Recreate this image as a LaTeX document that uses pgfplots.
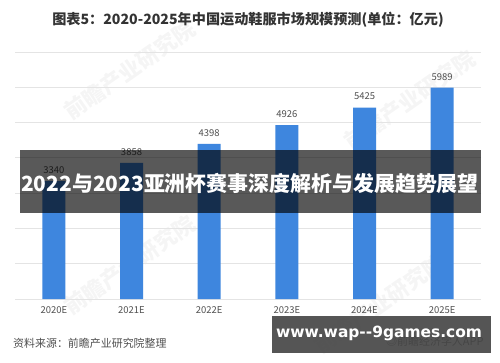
\documentclass[border=0pt]{standalone}
\usepackage{pgfplots}
\pgfplotsset{compat=1.18}
\usepackage{fontspec}
\setmainfont{Noto Sans CJK SC}
\newfontfamily\dejab{DejaVu Sans}
\definecolor{barblue}{RGB}{62,134,222}
\definecolor{gridgray}{RGB}{228,228,228}
\definecolor{titlegray}{RGB}{51,51,51}
\definecolor{labgray}{RGB}{80,80,80}
\begin{document}
\begin{tikzpicture}[x=1bp,y=1bp]
\fill[white] (0,0) rectangle (500,362);
% faint watermarks
\foreach \px/\py in {130/292,410/262,130/97,380/58}{
  \node[rotate=35,text=black,opacity=0.04,font=\fontsize{22}{22}\selectfont\bfseries] at (\px,\py) {前瞻产业研究院};
}
\begin{axis}[
  at={(15bp,63bp)}, anchor=south west,
  scale only axis, width=466bp, height=247bp,
  xmin=-0.5, xmax=5.5, ymin=0, ymax=7000,
  enlargelimits=false,
  ytick={0,1000,...,7000}, yticklabels={},
  ymajorgrids, grid style={draw=gridgray, line width=0.8pt},
  axis line style={draw=none}, major tick length=0pt,
  xtick=data,
  xticklabels={2020E,2021E,2022E,2023E,2024E,2025E},
  xticklabel style={font=\fontsize{9.5}{10}\selectfont, text=labgray, yshift=-4bp},
  ybar, bar width=23bp,
  nodes near coords,
  every node near coord/.append style={font=\fontsize{9.5}{10}\selectfont, text=labgray, yshift=4bp},
  /pgf/number format/assume math mode=true,
  /pgf/number format/1000 sep={},
  clip=false,
]
\addplot[fill=barblue, draw=none] coordinates {(0,3340) (1,3858) (2,4398) (3,4926) (4,5425) (5,5989)};
\end{axis}
% title
\node[text=titlegray, font=\fontsize{14.2}{14.2}\selectfont\bfseries] at (248,342) {图表5：2020-2025年中国运动鞋服市场规模预测(单位：亿元)};
% banner
\fill[black, opacity=0.65] (20,149) rectangle (481,212);
\node[text=white, font=\fontsize{21}{21}\selectfont\bfseries] at (250,179) {2022与2023亚洲杯赛事深度解析与发展趋势展望};
% source
\node[anchor=west, text=labgray, font=\fontsize{11}{11}\selectfont, inner sep=0] at (13,19) {资料来源：前瞻产业研究院整理};
\node[anchor=west, text=titlegray, font=\fontsize{11}{11}\selectfont, inner sep=0] at (386,21) {◎前瞻经济学人APP};
% link box
\fill[black!72, opacity=0.92] (272,9) rectangle (490.7,46);
\node[text=white, font=\dejab\fontsize{15.5}{15.5}\selectfont\bfseries] at (379,29) {www.wap--9games.com};
\end{tikzpicture}
\end{document}
